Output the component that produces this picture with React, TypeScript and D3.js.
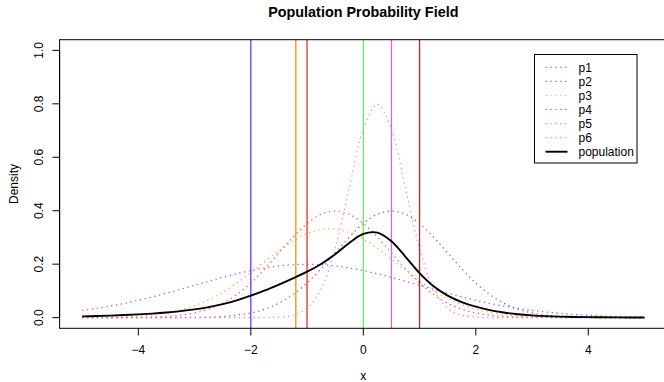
import { useEffect, useRef } from "react";
import * as d3 from "d3";

// grid of x values the densities were read at
const xGrid = [
  -5, -4.75, -4.5, -4.25, -4, -3.75, -3.5, -3.25, -3, -2.75, -2.5, -2.25, -2, -1.75, -1.5, -1.25, -1, -0.75, -0.5, -0.25,
  0, 0.25, 0.5, 0.75, 1, 1.25, 1.5, 1.75, 2, 2.25, 2.5, 2.75, 3, 3.25, 3.5, 3.75, 4, 4.25, 4.5, 4.75, 5,
];

const p1 = [
  0, 0.0001, 0.0001, 0.0004, 0.0009, 0.002, 0.0044, 0.0091, 0.0175, 0.0317, 0.054, 0.0863, 0.1295, 0.1826, 0.242, 0.3011,
  0.3521, 0.3867, 0.3989, 0.3867, 0.3521, 0.3011, 0.242, 0.1826, 0.1295, 0.0863, 0.054, 0.0317, 0.0175, 0.0091, 0.0044,
  0.002, 0.0009, 0.0004, 0.0001, 0.0001, 0, 0, 0, 0, 0,
];
const p2 = [
  0.027, 0.0344, 0.0431, 0.0532, 0.0648, 0.0775, 0.0913, 0.1059, 0.121, 0.136, 0.1506, 0.1641, 0.176, 0.1859, 0.1933,
  0.1979, 0.1995, 0.1979, 0.1933, 0.1859, 0.176, 0.1641, 0.1506, 0.136, 0.121, 0.1059, 0.0913, 0.0775, 0.0648, 0.0532,
  0.0431, 0.0344, 0.027, 0.0209, 0.0159, 0.0119, 0.0088, 0.0064, 0.0046, 0.0032, 0.0022,
];
const p3: number[] = []; // not visible in the plot
const p4 = [
  0, 0, 0, 0, 0, 0.0001, 0.0001, 0.0004, 0.0009, 0.002, 0.0044, 0.0091, 0.0175, 0.0317, 0.054, 0.0863, 0.1295, 0.1826,
  0.242, 0.3011, 0.3521, 0.3867, 0.3989, 0.3867, 0.3521, 0.3011, 0.242, 0.1826, 0.1295, 0.0863, 0.054, 0.0317, 0.0175,
  0.0091, 0.0044, 0.002, 0.0009, 0.0004, 0.0001, 0.0001, 0,
];
const p5 = [
  0, 0, 0, 0, 0, 0, 0, 0, 0, 0, 0, 0, 0, 0.0003, 0.0017, 0.0089, 0.035, 0.108, 0.259, 0.484, 0.7042, 0.7979, 0.7042,
  0.484, 0.259, 0.108, 0.035, 0.0089, 0.0017, 0.0003, 0, 0, 0, 0, 0, 0, 0, 0, 0, 0, 0,
];
const p6 = [
  0.0004, 0.0008, 0.0017, 0.0033, 0.006, 0.0106, 0.0179, 0.029, 0.045, 0.0668, 0.0949, 0.1292, 0.1683, 0.2101, 0.2509,
  0.2871, 0.3145, 0.3298, 0.3313, 0.3186, 0.2934, 0.2587, 0.2184, 0.1766, 0.1367, 0.1013, 0.0719, 0.0489, 0.0318, 0.0198,
  0.0118, 0.0068, 0.0037, 0.0019, 0.001, 0.0005, 0.0002, 0.0001, 0, 0, 0,
];
const population = [
  0.0046, 0.0059, 0.0075, 0.0095, 0.012, 0.015, 0.019, 0.0241, 0.0307, 0.0394, 0.0507, 0.0648, 0.0819, 0.1018, 0.1237,
  0.1469, 0.1718, 0.2008, 0.2374, 0.2794, 0.313, 0.3181, 0.2857, 0.2277, 0.1664, 0.1171, 0.0824, 0.0583, 0.0409, 0.0281,
  0.0189, 0.0125, 0.0082, 0.0054, 0.0036, 0.0024, 0.0017, 0.0012, 0.0008, 0.0005, 0.0004,
];

const groupNames = ["p1", "p2", "p3", "p4", "p5", "p6"];
const groupSeries = [p1, p2, p3, p4, p5, p6];
const groupColors = ["#ee2c2c", "#6a35f5", "#66ee66", "#a52a2a", "#cf66ff", "#ff8c00"];
// vertical reference lines, one per group
const groupMarks = [-1, -2, 0, 1, 0.5, -1.2];

const xTicks = [-4, -2, 0, 2, 4];
const yTicks = [0, 0.2, 0.4, 0.6, 0.8, 1.0];

const FONT = "'Liberation Sans', Arial, Helvetica, sans-serif";

export default function App() {
  const svgRef = useRef<SVGSVGElement | null>(null);

  useEffect(() => {
    if (!svgRef.current) return;
    const width = 664;
    const height = 382;
    const left = 59.6, right = 667, top = 39.7, bottom = 328.3;

    const svg = d3.select(svgRef.current);
    svg.selectAll("*").remove();
    svg.attr("width", width).attr("height", height);

    svg.append("rect").attr("width", width).attr("height", height).attr("fill", "#fff");

    const x = d3.scaleLinear().domain([-5.4, 5.4]).range([left, right]);
    const y = d3.scaleLinear().domain([-0.04, 1.04]).range([bottom, top]);

    svg.append("clipPath").attr("id", "plotclip")
      .append("rect")
      .attr("x", left).attr("y", top)
      .attr("width", right - left).attr("height", bottom - top);

    const plot = svg.append("g").attr("clip-path", "url(#plotclip)");

    const line = d3.line<number>()
      .x((d, i) => x(xGrid[i]))
      .y(d => y(d))
      .curve(d3.curveCatmullRom.alpha(0.5));

    // group densities, dotted
    groupSeries.forEach((vals, k) => {
      if (vals.length === 0) return;
      plot.append("path")
        .datum(vals)
        .attr("fill", "none")
        .attr("stroke", groupColors[k])
        .attr("stroke-opacity", 0.8)
        .attr("stroke-width", 1.2)
        .attr("stroke-dasharray", "1.3,3.6")
        .attr("d", line);
    });

    // vertical marks
    groupMarks.forEach((m, k) => {
      plot.append("line")
        .attr("x1", x(m)).attr("x2", x(m))
        .attr("y1", top).attr("y2", bottom)
        .attr("stroke", groupColors[k])
        .attr("stroke-width", 1.3);
    });

    // population density
    plot.append("path")
      .datum(population)
      .attr("fill", "none")
      .attr("stroke", "#000")
      .attr("stroke-width", 1.9)
      .attr("d", line);

    // box
    svg.append("rect")
      .attr("x", left).attr("y", top)
      .attr("width", right - left).attr("height", bottom - top)
      .attr("fill", "none").attr("stroke", "#000").attr("stroke-width", 1);

    // x axis
    const xAxis = svg.append("g");
    xTicks.forEach(t => {
      xAxis.append("line")
        .attr("x1", x(t)).attr("x2", x(t))
        .attr("y1", bottom).attr("y2", bottom + 7.2)
        .attr("stroke", "#000");
      xAxis.append("text")
        .attr("x", x(t)).attr("y", bottom + 26)
        .attr("text-anchor", "middle")
        .style("font-family", FONT).style("font-size", "12px")
        .text(t < 0 ? "\u2212" + Math.abs(t) : String(t));
    });

    // y axis
    const yAxis = svg.append("g");
    yAxis.append("line")
      .attr("x1", left).attr("x2", left)
      .attr("y1", y(0)).attr("y2", y(1))
      .attr("stroke", "#000");
    yTicks.forEach(t => {
      yAxis.append("line")
        .attr("x1", left - 7.2).attr("x2", left)
        .attr("y1", y(t)).attr("y2", y(t))
        .attr("stroke", "#000");
      yAxis.append("text")
        .attr("transform", `translate(${left - 16.8},${y(t)}) rotate(-90)`)
        .attr("text-anchor", "middle")
        .style("font-family", FONT).style("font-size", "12px")
        .text(t.toFixed(1));
    });

    // titles
    svg.append("text")
      .attr("x", (left + right) / 2).attr("y", 17)
      .attr("text-anchor", "middle")
      .style("font-family", FONT).style("font-size", "14.4px").style("font-weight", "bold")
      .text("Population Probability Field");

    svg.append("text")
      .attr("x", (left + right) / 2).attr("y", 380)
      .attr("text-anchor", "middle")
      .style("font-family", FONT).style("font-size", "12px")
      .text("x");

    svg.append("text")
      .attr("transform", `translate(18,${(top + bottom) / 2}) rotate(-90)`)
      .attr("text-anchor", "middle")
      .style("font-family", FONT).style("font-size", "12px")
      .text("Density");

    // legend
    const lg = svg.append("g");
    lg.append("rect")
      .attr("x", 534.5).attr("y", 54.5)
      .attr("width", 102.5).attr("height", 108.5)
      .attr("fill", "#fff").attr("stroke", "#000");
    const labels = [...groupNames, "population"];
    labels.forEach((lab, i) => {
      const yy = 67.3 + i * 14.07;
      const isPop = i === groupNames.length;
      lg.append("line")
        .attr("x1", 545.5).attr("x2", 567.5)
        .attr("y1", yy).attr("y2", yy)
        .attr("stroke", isPop ? "#000" : groupColors[i])
        .attr("stroke-opacity", isPop ? 1 : 0.8)
        .attr("stroke-width", isPop ? 1.9 : 1.2)
        .attr("stroke-dasharray", isPop ? null : "1.3,3.6");
      lg.append("text")
        .attr("x", 578.5).attr("y", yy + 4.3)
        .style("font-family", FONT).style("font-size", "12px")
        .text(lab);
    });
  }, []);

  return (
    <svg ref={svgRef} style={{ position: "absolute", left: 0, top: 0, display: "block" }}></svg>
  );
}
